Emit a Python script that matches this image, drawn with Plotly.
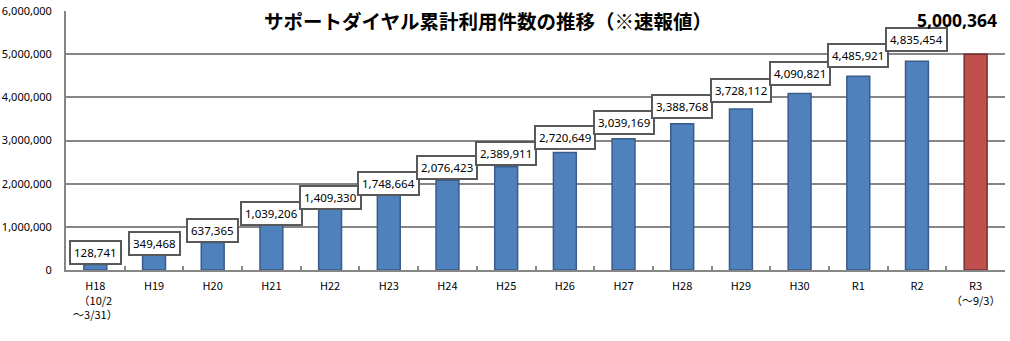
import plotly.graph_objects as go

# Fiscal-year categories and tick labels
categories = ["H18", "H19", "H20", "H21", "H22", "H23", "H24", "H25",
              "H26", "H27", "H28", "H29", "H30", "R1", "R2", "R3"]
tick_labels = ["H18<br>（10/2<br>～3/31）", "H19", "H20", "H21", "H22", "H23",
               "H24", "H25", "H26", "H27", "H28", "H29", "H30", "R1", "R2",
               "R3<br>（～9/3）"]
# Cumulative number of calls to the support dial
cumulative_calls = [128741, 349468, 637365, 1039206, 1409330, 1748664,
                    2076423, 2389911, 2720649, 3039169, 3388768, 3728112,
                    4090821, 4485921, 4835454, 5000364]
y_ticks = [0, 1000000, 2000000, 3000000, 4000000, 5000000, 6000000]

title_text = "サポートダイヤル累計利用件数の推移（※速報値）"

NUM_FONT = "Noto Sans, Noto Sans CJK JP, sans-serif"
JP_FONT = "Noto Sans CJK JP, Noto Sans, sans-serif"

last = len(categories) - 1
fill = ["#4F81BD"] * last + ["#C0504D"]
edge = ["#385D8A"] * last + ["#7A2E2C"]

fig = go.Figure(go.Bar(
    x=categories,
    y=cumulative_calls,
    marker=dict(color=fill, line=dict(color=edge, width=1.5)),
    width=0.39,
    hoverinfo="x+y",
))

annotations = []
# Boxed value labels above each bar (except the highlighted latest one)
for cat, val in zip(categories[:-1], cumulative_calls[:-1]):
    annotations.append(dict(
        x=cat, y=val, xref="x", yref="y",
        text=f"{val:,}", showarrow=False,
        yanchor="bottom", xanchor="center",
        yshift=-1 + 3.5 * max(0.0, val / 1e6 - 1.8),
        font=dict(family=NUM_FONT, size=11.5, color="#000000"),
        bgcolor="#FFFFFF", bordercolor="#595959", borderwidth=2, borderpad=3,
    ))
# Highlighted latest value
annotations.append(dict(
    x=categories[-1], y=cumulative_calls[-1], xref="x", yref="y",
    text=f"<b>{cumulative_calls[-1]:,}</b>", showarrow=False,
    yanchor="bottom", xanchor="center", xshift=-19, yshift=20,
    font=dict(family=NUM_FONT, size=17.5, color="#000000"),
))
# Chart title, centred about 20 px below the top edge
annotations.append(dict(
    x=0.449, y=1 + (11 - 20) / 259, xref="paper", yref="paper",
    text=f"<b>{title_text}</b>", showarrow=False,
    xanchor="center", yanchor="middle",
    font=dict(family=JP_FONT, size=19.5, color="#000000"),
))

fig.update_layout(
    width=1010, height=341,
    margin=dict(l=66, r=5, t=11, b=71),
    paper_bgcolor="#FFFFFF", plot_bgcolor="#FFFFFF",
    showlegend=False,
    annotations=annotations,
    bargap=0.61,
)

fig.update_xaxes(
    type="category",
    tickmode="array", tickvals=categories, ticktext=tick_labels,
    tickangle=0, automargin=False,
    tickfont=dict(family=JP_FONT, size=11, color="#000000"),
    showline=True, linecolor="#868686", linewidth=2,
    ticks="inside", tickson="boundaries", ticklen=4, tickwidth=2,
    tickcolor="#868686", showgrid=False, ticklabelstandoff=5,
)
fig.update_yaxes(
    range=[0, 6000000], automargin=False,
    tickmode="array", tickvals=y_ticks,
    ticktext=[f"{v:,}" for v in y_ticks],
    tickfont=dict(family=NUM_FONT, size=11, color="#000000"),
    showline=True, linecolor="#868686", linewidth=2,
    showgrid=True, gridcolor="#868686", gridwidth=2,
    zeroline=False, ticks="", ticklabelstandoff=10,
)

fig.write_html("out.html")
